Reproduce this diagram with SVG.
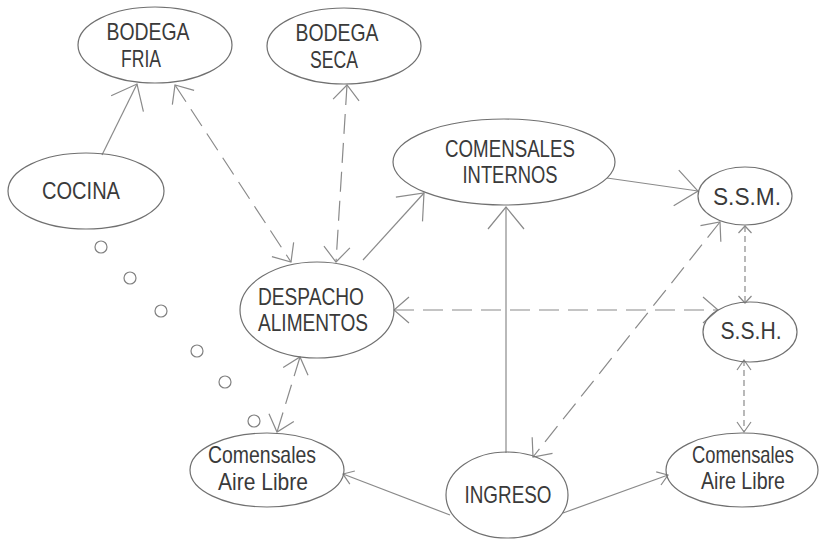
<svg xmlns="http://www.w3.org/2000/svg" width="819" height="539" viewBox="0 0 819 539">
<style>
  .bg { fill: #ffffff; }
  .node ellipse { fill: none; stroke: #707070; stroke-width: 1.2; }
  .dot { fill: none; stroke: #808080; stroke-width: 1.2; }
  .lbl { font-family: "Liberation Sans", Arial, sans-serif; font-size: 24px; fill: #3a3a3a; text-anchor: middle; }
  .c { fill: none; stroke: #8a8a8a; stroke-width: 1.2; }
  .d1 { stroke-dasharray: 20 9; }
  .d2 { stroke-dasharray: 6 4; }
  .ah { fill: none; stroke: #8a8a8a; stroke-width: 1.2; }
</style>
<defs>
  <marker id="aL" markerUnits="userSpaceOnUse" orient="auto-start-reverse" refX="0" refY="0" markerWidth="60" markerHeight="60" viewBox="-30 -30 60 60" overflow="visible">
    <path class="ah" d="M-22,-18 L0,0 L-22,18"/>
  </marker>
  <marker id="aM" markerUnits="userSpaceOnUse" orient="auto-start-reverse" refX="0" refY="0" markerWidth="60" markerHeight="60" viewBox="-30 -30 60 60" overflow="visible">
    <path class="ah" d="M-15,-13 L0,0 L-15,13"/>
  </marker>
  <marker id="aS" markerUnits="userSpaceOnUse" orient="auto-start-reverse" refX="0" refY="0" markerWidth="60" markerHeight="60" viewBox="-30 -30 60 60" overflow="visible">
    <path class="ah" d="M-10,-7 L0,0 L-10,7"/>
  </marker>
  <marker id="aT" markerUnits="userSpaceOnUse" orient="auto-start-reverse" refX="0" refY="0" markerWidth="60" markerHeight="60" viewBox="-30 -30 60 60" overflow="visible">
    <path class="ah" d="M-7,-6.5 L0,0 L-7,6.5"/>
  </marker>
</defs>
<rect class="bg" x="0" y="0" width="819" height="539"/>

<g id="connectors">
  <path class="c" d="M102,155 L137,84" marker-end="url(#aL)"/>
  <path class="c d1" d="M175,85 L291,262" marker-start="url(#aM)" marker-end="url(#aM)"/>
  <path class="c d1" d="M347,85 L336,262" marker-start="url(#aM)" marker-end="url(#aM)"/>
  <path class="c" d="M363,260 L424,193" marker-end="url(#aL)"/>
  <path class="c" d="M506,453 L506,207" marker-end="url(#aL)"/>
  <path class="c" d="M607,178 L698,191" marker-end="url(#aL)"/>
  <path class="c d1" d="M720,222 L533,457" marker-start="url(#aM)" marker-end="url(#aM)"/>
  <path class="c d2" d="M745,226 L745,303" marker-start="url(#aT)" marker-end="url(#aT)"/>
  <path class="c d1" d="M394,310 L718,310" marker-start="url(#aM)" marker-end="url(#aM)"/>
  <path class="c d2" d="M744,360 L744,432" marker-start="url(#aS)" marker-end="url(#aS)"/>
  <path class="c d1" d="M300,357 L277,432" marker-start="url(#aM)" marker-end="url(#aM)"/>
  <path class="c" d="M450,515 L343,474" marker-end="url(#aS)"/>
  <path class="c" d="M563,513 L668,475" marker-end="url(#aS)"/>
</g>

<g id="dots">
  <circle class="dot" cx="101" cy="247" r="6"/>
  <circle class="dot" cx="130" cy="278" r="6"/>
  <circle class="dot" cx="161" cy="311" r="6"/>
  <circle class="dot" cx="197" cy="351" r="6"/>
  <circle class="dot" cx="225" cy="382" r="6"/>
  <circle class="dot" cx="254" cy="421" r="6"/>
</g>

<g id="bodega-fria" class="node">
  <ellipse cx="155" cy="45" rx="77" ry="38"/>
  <text class="lbl" x="148" y="40" textLength="83" lengthAdjust="spacingAndGlyphs">BODEGA</text>
  <text class="lbl" x="141" y="67" textLength="40" lengthAdjust="spacingAndGlyphs">FRIA</text>
</g>
<g id="bodega-seca" class="node">
  <ellipse cx="344" cy="46" rx="77" ry="38"/>
  <text class="lbl" x="337" y="41" textLength="83" lengthAdjust="spacingAndGlyphs">BODEGA</text>
  <text class="lbl" x="334" y="68" textLength="48" lengthAdjust="spacingAndGlyphs">SECA</text>
</g>
<g id="cocina" class="node">
  <ellipse cx="86" cy="191" rx="78" ry="38"/>
  <text class="lbl" x="81" y="199" textLength="78" lengthAdjust="spacingAndGlyphs">COCINA</text>
</g>
<g id="comensales-internos" class="node">
  <ellipse cx="504" cy="162" rx="111" ry="43"/>
  <text class="lbl" x="510" y="157" textLength="130" lengthAdjust="spacingAndGlyphs">COMENSALES</text>
  <text class="lbl" x="510" y="183" textLength="95" lengthAdjust="spacingAndGlyphs">INTERNOS</text>
</g>
<g id="ssm" class="node">
  <ellipse cx="745" cy="196" rx="47" ry="29"/>
  <text class="lbl" x="747" y="205" textLength="68" lengthAdjust="spacingAndGlyphs">S.S.M.</text>
</g>
<g id="despacho" class="node">
  <ellipse cx="317" cy="310" rx="77" ry="48"/>
  <text class="lbl" x="311" y="305" textLength="106" lengthAdjust="spacingAndGlyphs">DESPACHO</text>
  <text class="lbl" x="313" y="331" textLength="110" lengthAdjust="spacingAndGlyphs">ALIMENTOS</text>
</g>
<g id="ssh" class="node">
  <ellipse cx="750" cy="332" rx="47" ry="30"/>
  <text class="lbl" x="751" y="339" textLength="61" lengthAdjust="spacingAndGlyphs">S.S.H.</text>
</g>
<g id="comensales-aire-libre-izq" class="node">
  <ellipse cx="267" cy="470" rx="77" ry="37"/>
  <text class="lbl" x="262" y="463" textLength="108" lengthAdjust="spacingAndGlyphs">Comensales</text>
  <text class="lbl" x="263" y="490" textLength="90" lengthAdjust="spacingAndGlyphs">Aire Libre</text>
</g>
<g id="ingreso" class="node">
  <ellipse cx="507" cy="495" rx="61" ry="43"/>
  <text class="lbl" x="508" y="503" textLength="87" lengthAdjust="spacingAndGlyphs">INGRESO</text>
</g>
<g id="comensales-aire-libre-der" class="node">
  <ellipse cx="742" cy="470" rx="76" ry="37"/>
  <text class="lbl" x="743" y="463" font-size="23" textLength="102" lengthAdjust="spacingAndGlyphs">Comensales</text>
  <text class="lbl" x="743" y="489" font-size="23" textLength="84" lengthAdjust="spacingAndGlyphs">Aire Libre</text>
</g>
</svg>
